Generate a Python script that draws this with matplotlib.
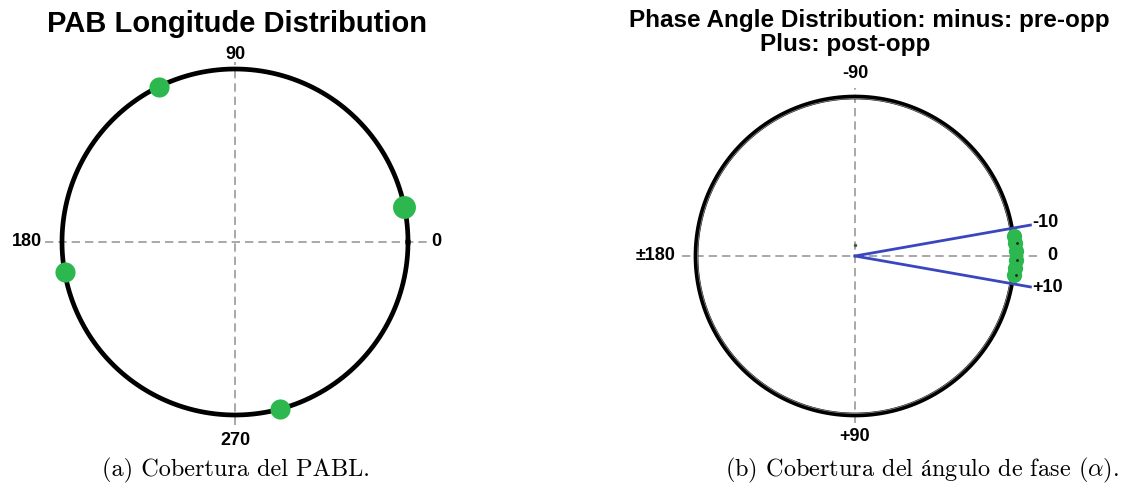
import numpy as np
import matplotlib
matplotlib.use("Agg")
import matplotlib.pyplot as plt

# PAB longitude of observations (deg), counter-clockwise from +x
pab_lon = [116.0, 11.6, 190.0, 285.0]
pab_size = [14.5, 16.5, 14.5, 14.5]

# phase angles (deg): minus = pre-opposition, plus = post-opposition
phase = [-7.2, -4.7, -1.8, 1.4, 4.3, 6.8]
phase_limits = [-10, 10]

left_ticks = ["0", "90", "180", "270"]
right_ticks = ["0", "-90", "\u00b1180", "+90"]

W, H = 1129, 495
GREEN = "#2cb84e"
BLUE = "#3a45c0"
DASH = "#9a9a9a"

plt.rcParams["font.family"] = ["Liberation Sans", "DejaVu Sans"]
plt.rcParams["mathtext.fontset"] = "cm"

fig = plt.figure(figsize=(W / 100, H / 100), dpi=100)


def make_ax(cx, cy, r, w, h):
    ax = fig.add_axes([(cx - w / 2) / W, 1 - (cy + h / 2) / H, w / W, h / H])
    ax.set_xlim(-w / 2 / r, w / 2 / r)
    ax.set_ylim(-h / 2 / r, h / 2 / r)
    ax.axis("off")
    return ax


t = np.linspace(0, 2 * np.pi, 400)
tick_kw = dict(fontsize=13, fontweight="bold", clip_on=False)

# ---- (a) PAB longitude ----
ax = make_ax(235, 242, 173, 470, 400)
ax.plot([-1.10, 1.127], [0, 0], ls=(0, (5, 3)), color=DASH, lw=1.2)
ax.plot([0, 0], [-1.058, 1.04], ls=(0, (5, 3)), color=DASH, lw=1.2)
ax.plot(np.cos(t), np.sin(t), color="black", lw=3.4)
a = np.radians(pab_lon)
for xi, yi, s in zip(np.cos(a), np.sin(a), pab_size):
    ax.plot(xi, yi, "o", color=GREEN, ms=s, mec="none")
ax.text(1.135, 0, left_ticks[0], ha="left", va="center", **tick_kw)
ax.text(0, 1.085, left_ticks[1], ha="center", va="center", **tick_kw)
ax.text(-1.116, 0, left_ticks[2], ha="right", va="center", **tick_kw)
ax.text(0, -1.145, left_ticks[3], ha="center", va="center", **tick_kw)

# ---- (b) phase angle ----
ax = make_ax(855, 256, 159, 510, 392)
ax.plot([-1.088, 1.15], [0, 0], ls=(0, (5, 3)), color=DASH, lw=1.2)
ax.plot([0, 0], [-1.05, 1.057], ls=(0, (5, 3)), color=DASH, lw=1.2)
ax.plot(np.cos(t), np.sin(t), color="black", lw=3.4)
ax.plot(0.99 * np.cos(t), 0.99 * np.sin(t), color="#888888", lw=0.6)
for lim in phase_limits:
    b = np.radians(lim)
    ax.plot([0, 1.12 * np.cos(b)], [0, -1.12 * np.sin(b)], color=BLUE, lw=2.0)
p = np.radians(phase)
ax.plot(1.01 * np.cos(p), -np.sin(p), "o", color=GREEN, ms=11, mec="none")
ax.plot(1.02 * np.cos(p[1::2]), -np.sin(p[1::2]), ".", color="#222222", ms=2)
ax.plot(0, 0.07, ".", color="#555555", ms=3)
ax.text(1.21, 0, right_ticks[0], ha="left", va="center", **tick_kw)
ax.text(0, 1.145, right_ticks[1], ha="center", va="center", **tick_kw)
ax.text(-1.126, 0, right_ticks[2], ha="right", va="center", **tick_kw)
ax.text(0, -1.138, right_ticks[3], ha="center", va="center", **tick_kw)
ax.text(1.113, 0.21, "-10", ha="left", va="center", **tick_kw)
ax.text(1.113, -0.2, "+10", ha="left", va="center", **tick_kw)

# titles
fig.text(237 / W, 1 - 24 / H, "PAB Longitude Distribution", ha="center", va="center",
         fontsize=21, fontweight="bold")
fig.text(869 / W, 1 - 21 / H, "Phase Angle Distribution: minus: pre-opp", ha="center",
         va="center", fontsize=17.5, fontweight="bold")
fig.text(845 / W, 1 - 45 / H, "Plus: post-opp", ha="center", va="center",
         fontsize=17.5, fontweight="bold")

# captions
cap_kw = dict(ha="center", va="center", fontsize=17.5, family="cmr10")
fig.text(236 / W, 1 - 470 / H, "(a) Cobertura del PABL.", **cap_kw)
fig.text(922 / W, 1 - 470 / H, "(b) Cobertura del $\\mathrm{\u00e1}$ngulo de fase ($\\alpha$).",
         **cap_kw)

fig.savefig("out.png", dpi=100)
